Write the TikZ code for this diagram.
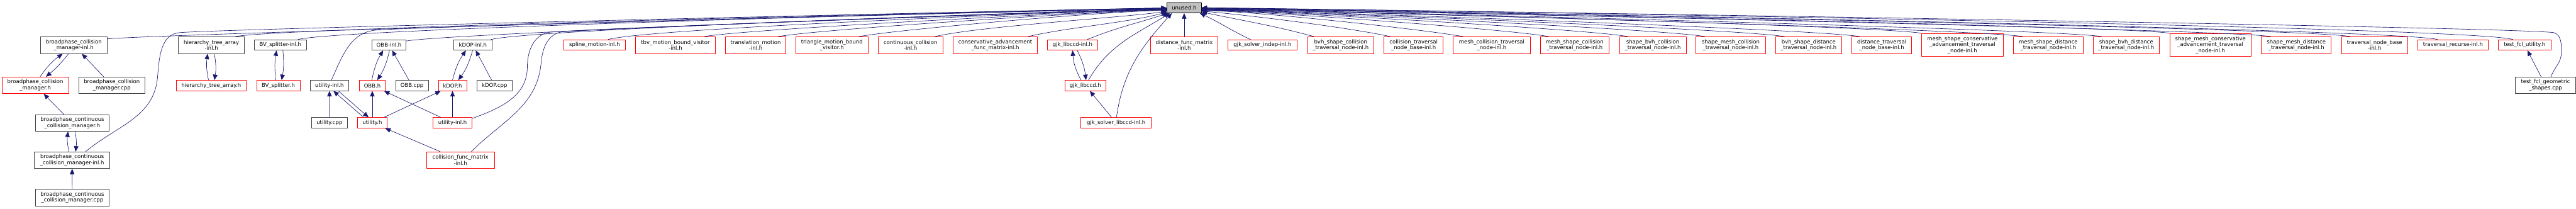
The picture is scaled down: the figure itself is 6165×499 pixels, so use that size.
\documentclass[tikz,border=0pt]{standalone}
\usepackage{fontspec}
\setmainfont{DejaVu Sans}
\usetikzlibrary{arrows.meta}
\definecolor{edgeblue}{HTML}{191970}
\definecolor{boxgray}{HTML}{404040}
\definecolor{rootfill}{HTML}{BFBFBF}
\tikzset{
  file/.style={draw=boxgray, line width=1.1pt, inner sep=0pt, align=center, font=\fontsize{12.8}{14.5}\selectfont},
  part/.style={file, draw=red},
  root/.style={file, draw=black, fill=rootfill},
  ln1/.style={minimum height=25pt},
  ln2/.style={minimum height=40pt},
  ln3/.style={minimum height=55pt},
  dep/.style={->, draw=edgeblue, line width=1pt},
}
\begin{document}
\begin{tikzpicture}[x=1pt, y=1pt, >={Triangle[length=13pt,width=11pt]}, line join=round]
  \useasboundingbox (0,0) rectangle (6165,-499);

  % 1. the included file at the top
  \node[root, ln1, minimum width=82pt] (unused) at (2834,-18.5) {unused.h};

  % 2. first row of files that include it
  \node[file, ln2, minimum width=159pt] (bcmInl) at (176.5,-108) {broadphase\_collision\\\_manager-inl.h};
  \node[file, ln2, minimum width=158pt] (htaInl) at (506,-108) {hierarchy\_tree\_array\\-inl.h};
  \node[file, ln1, minimum width=126pt] (bvsInl) at (671,-107.5) {BV\_splitter-inl.h};
  \node[file, ln1, minimum width=82pt] (obbInl) at (931,-107.5) {OBB-inl.h};
  \node[file, ln1, minimum width=91pt] (kdopInl) at (1131.5,-107.5) {kDOP-inl.h};
  \node[part, ln1, minimum width=148pt] (splInl) at (1423,-107.5) {spline\_motion-inl.h};
  \node[part, ln2, minimum width=191pt] (tbvInl) at (1616.5,-108) {tbv\_motion\_bound\_visitor\\-inl.h};
  \node[part, ln2, minimum width=145pt] (transInl) at (1808.5,-108) {translation\_motion\\-inl.h};
  \node[part, ln2, minimum width=172pt] (triH) at (1991,-108) {triangle\_motion\_bound\\\_visitor.h};
  \node[part, ln2, minimum width=154pt] (ccInl) at (2179,-108) {continuous\_collision\\-inl.h};
  \node[part, ln2, minimum width=202pt] (cafmInl) at (2382,-108) {conservative\_advancement\\\_func\_matrix-inl.h};
  \node[part, ln1, minimum width=120pt] (gjkInl) at (2567,-107.5) {gjk\_libccd-inl.h};
  \node[part, ln2, minimum width=162pt] (dfmInl) at (2834,-108) {distance\_func\_matrix\\-inl.h};
  \node[part, ln1, minimum width=165pt] (gjkIndep) at (3021.5,-107.5) {gjk\_solver\_indep-inl.h};
  \node[part, ln2, minimum width=159pt] (bscColl) at (3208.5,-108) {bvh\_shape\_collision\\\_traversal\_node-inl.h};
  \node[part, ln2, minimum width=142pt] (ctnbInl) at (3383,-108) {collision\_traversal\\\_node\_base-inl.h};
  \node[part, ln2, minimum width=184pt] (mColl) at (3570,-108) {mesh\_collision\_traversal\\\_node-inl.h};
  \node[part, ln2, minimum width=165pt] (msColl) at (3768.5,-108) {mesh\_shape\_collision\\\_traversal\_node-inl.h};
  \node[part, ln2, minimum width=159pt] (sbColl) at (3955.5,-108) {shape\_bvh\_collision\\\_traversal\_node-inl.h};
  \node[part, ln2, minimum width=166pt] (smColl) at (4142,-108) {shape\_mesh\_collision\\\_traversal\_node-inl.h};
  \node[part, ln2, minimum width=159pt] (bsDist) at (4328.5,-108) {bvh\_shape\_distance\\\_traversal\_node-inl.h};
  \node[part, ln2, minimum width=143pt] (dtnbInl) at (4503.5,-108) {distance\_traversal\\\_node\_base-inl.h};
  \node[part, ln3, minimum width=195pt] (msCA) at (4696.5,-107.5) {mesh\_shape\_conservative\\\_advancement\_traversal\\\_node-inl.h};
  \node[part, ln2, minimum width=166pt] (msDist) at (4902,-108) {mesh\_shape\_distance\\\_traversal\_node-inl.h};
  \node[part, ln2, minimum width=159pt] (sbDist) at (5088.5,-108) {shape\_bvh\_distance\\\_traversal\_node-inl.h};
  \node[part, ln3, minimum width=194pt] (smCA) at (5290,-107.5) {shape\_mesh\_conservative\\\_advancement\_traversal\\\_node-inl.h};
  \node[part, ln2, minimum width=167pt] (smDist) at (5495.5,-108) {shape\_mesh\_distance\\\_traversal\_node-inl.h};
  \node[part, ln2, minimum width=158pt] (tnbInl) at (5683,-108) {traversal\_node\_base\\-inl.h};
  \node[part, ln1, minimum width=169pt] (trecInl) at (5870.5,-107.5) {traversal\_recurse-inl.h};
  \node[part, ln1, minimum width=126pt] (tfuH) at (6042,-107.5) {test\_fcl\_utility.h};

  % 3. lower rows
  \node[part, ln2, minimum width=159pt] (bcmH) at (84.5,-204) {broadphase\_collision\\\_manager.h};
  \node[file, ln2, minimum width=159pt] (bcmCpp) at (267.5,-204) {broadphase\_collision\\\_manager.cpp};
  \node[part, ln1, minimum width=167pt] (htaH) at (505.5,-204.5) {hierarchy\_tree\_array.h};
  \node[part, ln1, minimum width=104pt] (bvsH) at (666,-204.5) {BV\_splitter.h};
  \node[file, ln1, minimum width=93pt] (utilInl) at (788.5,-204.5) {utility-inl.h};
  \node[part, ln1, minimum width=62pt] (obbH) at (891,-204.5) {OBB.h};
  \node[file, ln1, minimum width=78pt] (obbCpp) at (986,-204.5) {OBB.cpp};
  \node[part, ln1, minimum width=68pt] (kdopH) at (1083,-204.5) {kDOP.h};
  \node[file, ln1, minimum width=83pt] (kdopCpp) at (1183.5,-204.5) {kDOP.cpp};
  \node[part, ln1, minimum width=99pt] (gjkH) at (2597.5,-204.5) {gjk\_libccd.h};
  \node[file, ln2, minimum width=144pt] (tfgsCpp) at (6092,-204) {test\_fcl\_geometric\\\_shapes.cpp};

  \node[file, ln2, minimum width=176pt] (bccmH) at (173,-294) {broadphase\_continuous\\\_collision\_manager.h};
  \node[file, ln1, minimum width=85pt] (utilCpp) at (788.5,-293.5) {utility.cpp};
  \node[part, ln1, minimum width=70pt] (utilH) at (891,-293.5) {utility.h};
  \node[part, ln1, minimum width=94pt] (utilInlR) at (1083,-293.5) {utility-inl.h};
  \node[part, ln1, minimum width=168pt] (gjkSolv) at (2671,-293.5) {gjk\_solver\_libccd-inl.h};

  \node[file, ln2, minimum width=181pt] (bccmInl) at (172.5,-383) {broadphase\_continuous\\\_collision\_manager-inl.h};
  \node[part, ln2, minimum width=162pt] (cfmInl) at (1102,-383) {collision\_func\_matrix\\-inl.h};
  \node[file, ln2, minimum width=176pt] (bccmCpp) at (173,-472) {broadphase\_continuous\\\_collision\_manager.cpp};

  % 4. short edges between neighbours
  \draw[dep] ([xshift=11.5]bcmH.north) to[bend left=10] ([xshift=-26.5]bcmInl.south);
  \draw[dep] ([xshift=-12.5]bcmInl.south) to[bend left=6] ([xshift=25.5]bcmH.north);
  \draw[dep] (bcmCpp) -- (bcmInl);
  \draw[dep] (bccmH) -- (bcmH);
  \draw[dep] ([xshift=-7.5]bccmInl.north) to[bend left=10] ([xshift=-10]bccmH.south);
  \draw[dep] ([xshift=7]bccmH.south) to[bend left=8] ([xshift=8.5]bccmInl.north);
  \draw[dep] (bccmCpp) -- (bccmInl);
  \draw[dep] ([xshift=-6.5]htaH.north) to[bend left=10] ([xshift=-9]htaInl.south);
  \draw[dep] ([xshift=7]htaInl.south) to[bend left=10] ([xshift=7.5]htaH.north);
  \draw[dep] ([xshift=-6]bvsH.north) to[bend left=8] ([xshift=-9]bvsInl.south);
  \draw[dep] ([xshift=6]bvsInl.south) to[bend left=8] ([xshift=8]bvsH.north);
  \draw[dep] ([xshift=-1]obbH.north) to[bend left=10] ([xshift=-14]obbInl.south);
  \draw[dep] ([xshift=1]obbInl.south) to[bend left=10] ([xshift=12]obbH.north);
  \draw[dep] (obbCpp) -- (obbInl);
  \draw[dep] (utilCpp) -- (utilInl);
  \draw[dep] ([xshift=-21]utilH.north) -- ([xshift=9.5]utilInl.south);
  \draw[dep] ([xshift=21.5]utilInl.south) -- ([xshift=-9]utilH.north);
  \draw[dep] (utilH) -- (obbH);
  \draw[dep] (utilH) -- (kdopH);
  \draw[dep] (utilInlR) -- (obbH);
  \draw[dep] (utilInlR) -- (kdopH);
  \draw[dep] (cfmInl) -- (utilH);
  \draw[dep] (kdopH.north) to[bend left=10] ([xshift=-16.5]kdopInl.south);
  \draw[dep] ([xshift=-0.5]kdopInl.south) to[bend left=10] ([xshift=14]kdopH.north);
  \draw[dep] (kdopCpp) -- (kdopInl);
  \draw[dep] ([xshift=-10.5]gjkH.north) to[bend left=12] (gjkInl.south);
  \draw[dep] ([xshift=11]gjkInl.south) to[bend left=10] ([xshift=1.5]gjkH.north);
  \draw[dep] (gjkSolv) -- (gjkH);
  \draw[dep] (tfgsCpp) -- (tfuH);

  % 5. edges into unused.h from the left
  \draw[dep] ([yshift=15]bcmInl.east) .. controls +(6:110) and +(-110,0) .. ([yshift=-0.5]unused.west);
  \draw[dep] ([xshift=32.5]bccmInl.north) to[out=40,in=-95] (377,-185) to[out=85,in=185] (430,-78) .. controls +(5:110) and +(-110,0) .. ([yshift=-1]unused.west);
  \draw[dep] ([xshift=57]htaInl.north) .. controls +(12:110) and +(-110,0) .. ([yshift=-1.5]unused.west);
  \draw[dep] ([xshift=42]bvsInl.north) .. controls +(15:110) and +(-110,0) .. ([yshift=-2]unused.west);
  \draw[dep] ([xshift=4.5]utilInl.north) to[out=65,in=185] (900,-72) .. controls +(5:110) and +(-110,0) .. ([yshift=-2.5]unused.west);
  \draw[dep] ([yshift=9.5]obbInl.east) .. controls +(10:110) and +(-110,0) .. ([yshift=-3]unused.west);
  \draw[dep] ([xshift=43.5]kdopInl.north) .. controls +(14:110) and +(-110,0) .. ([yshift=-3.5]unused.west);
  \draw[dep] ([yshift=10.5]utilInlR.east) to[out=20,in=-90] (1262,-160) to[out=90,in=190] (1315,-77) .. controls +(5:110) and +(-110,0) .. ([yshift=-4]unused.west);
  \draw[dep] ([xshift=26]cfmInl.north) to[out=45,in=-95] (1295,-150) to[out=85,in=190] (1345,-76) .. controls +(5:110) and +(-110,0) .. ([yshift=-4.5]unused.west);
  \draw[dep] ([xshift=32]splInl.north) .. controls +(15:110) and +(-110,0) .. ([yshift=-5]unused.west);
  \draw[dep] ([xshift=68.5]tbvInl.north) .. controls +(10:110) and +(-110,0) .. ([yshift=-5.5]unused.west);
  \draw[dep] ([xshift=53.5]transInl.north) .. controls +(10:110) and +(-110,0) .. ([yshift=-6]unused.west);
  \draw[dep] ([xshift=64]triH.north) .. controls +(10:110) and +(-110,0) .. ([yshift=-6.5]unused.west);
  \draw[dep] ([xshift=58]ccInl.north) .. controls +(13:110) and +(188:110) .. ([yshift=-8.5]unused.west);
  \draw[dep] ([xshift=78]cafmInl.north) .. controls +(13:100) and +(195:100) .. ([yshift=-10.5]unused.west);
  \draw[dep] ([xshift=35]gjkInl.north) to[out=22,in=198] ([xshift=3]unused.south west);
  \draw[dep] ([xshift=7.5]gjkH.north) to[out=60,in=212] ([xshift=7]unused.south west);
  \draw[dep] ([xshift=1]gjkSolv.north) to[out=82,in=228] ([xshift=12]unused.south west);
  \draw[dep] (dfmInl) -- (unused);

  % 6. edges into unused.h from the right
  \draw[dep] ([xshift=-28.5]gjkIndep.north) to[out=155,in=-25] ([xshift=-4]unused.south east);
  \draw[dep] ([xshift=-63.5]bscColl.north) .. controls +(165:110) and +(-12:110) .. ([yshift=-10]unused.east);
  \draw[dep] ([xshift=-55]ctnbInl.north) .. controls +(168:110) and +(-5:110) .. ([yshift=-8]unused.east);
  \draw[dep] ([xshift=-68]mColl.north) .. controls +(170:110) and +(110,0) .. ([yshift=-7]unused.east);
  \draw[dep] ([xshift=-61.5]msColl.north) .. controls +(170:110) and +(110,0) .. ([yshift=-6.5]unused.east);
  \draw[dep] ([xshift=-58.5]sbColl.north) .. controls +(170:110) and +(110,0) .. ([yshift=-6]unused.east);
  \draw[dep] ([xshift=-61]smColl.north) .. controls +(170:110) and +(110,0) .. ([yshift=-5.5]unused.east);
  \draw[dep] ([xshift=-57.5]bsDist.north) .. controls +(170:110) and +(110,0) .. ([yshift=-5]unused.east);
  \draw[dep] ([xshift=-52.5]dtnbInl.north) .. controls +(170:110) and +(110,0) .. ([yshift=-4.5]unused.east);
  \draw[dep] (msCA.north west) .. controls +(170:110) and +(110,0) .. ([yshift=-4]unused.east);
  \draw[dep] ([xshift=-60]msDist.north) .. controls +(170:110) and +(110,0) .. ([yshift=-3.5]unused.east);
  \draw[dep] ([xshift=-58.5]sbDist.north) .. controls +(170:110) and +(110,0) .. ([yshift=-3]unused.east);
  \draw[dep] (smCA.north west) .. controls +(170:110) and +(110,0) .. ([yshift=-2.5]unused.east);
  \draw[dep] ([xshift=-60.5]smDist.north) .. controls +(170:110) and +(110,0) .. ([yshift=-2]unused.east);
  \draw[dep] ([xshift=-58]tnbInl.north) .. controls +(168:110) and +(110,0) .. ([yshift=-1.5]unused.east);
  \draw[dep] ([xshift=-36.5]trecInl.north) .. controls +(165:110) and +(110,0) .. ([yshift=-1]unused.east);
  \draw[dep] ([xshift=-28]tfuH.north) .. controls +(162:110) and +(110,0) .. ([yshift=-0.5]unused.east);
  \draw[dep] ([xshift=13]tfgsCpp.north) to[out=70,in=-90] (6130,-125) to[out=90,in=-20] (6112,-78) .. controls +(172:110) and +(110,0) .. (unused.east);
\end{tikzpicture}
\end{document}
